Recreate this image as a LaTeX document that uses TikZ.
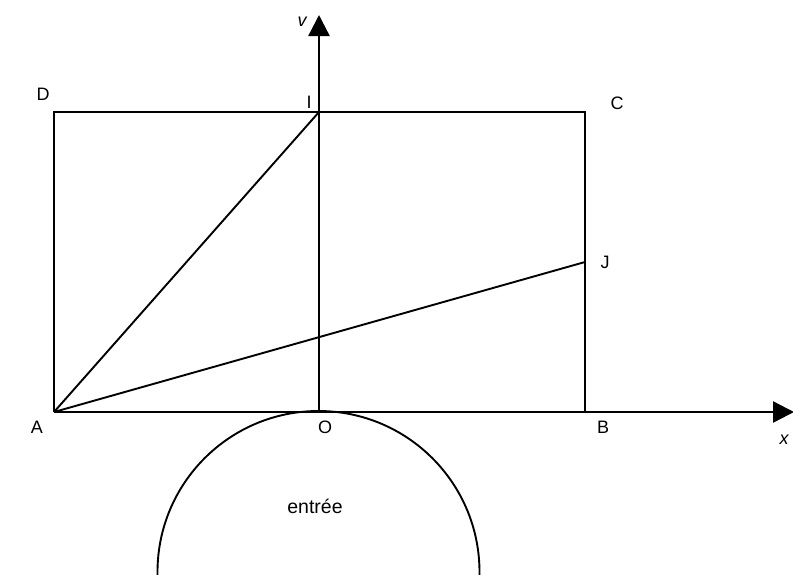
\documentclass[tikz,border=0pt]{standalone}
\usepackage{fontspec}
\setmainfont{Liberation Sans}
\usetikzlibrary{arrows.meta}
\tikzset{
  lbl/.style={font=\fontsize{18}{21}\selectfont, inner sep=0pt},
  edge/.style={line width=1.9pt},
  axis/.style={line width=2.4pt, -{Triangle[length=21pt,width=21pt]}},
}
\begin{document}
\begin{tikzpicture}[x=1pt,y=-1pt]
\useasboundingbox (0,0) rectangle (793,574);
\clip (0,0) rectangle (793,574);
\coordinate (A) at (54,412);
\coordinate (O) at (319,412);
\coordinate (B) at (585,412);
\coordinate (C) at (585,112);
\coordinate (D) at (54,112);
\coordinate (I) at (319,112);
\coordinate (J) at (585,262);
\coordinate (Ytop) at (319,15);
\coordinate (Xend) at (794,412);
\coordinate (K) at (318.5,572);
% rectangle
\draw[edge] (A) -- (D) -- (C) -- (B);
% diagonals
\draw[edge] (A) -- (I);
\draw[edge] (A) -- (J);
% axes
\draw[axis] (A) -- (Xend);
\draw[axis] (O) -- (Ytop);
% entrance circle
\draw[edge] (K) circle[radius=161];
% labels
\node[lbl] (lA) at (37,427) {A};
\node[lbl] (lO) at (325,427) {O};
\node[lbl] (lB) at (603,427) {B};
\node[lbl] (lD) at (43,94) {D};
\node[lbl] (lI) at (309,102) {I};
\node[lbl] (lC) at (617,103) {C};
\node[lbl] (lJ) at (605,262) {J};
\node[lbl, font=\fontsize{18}{21}\selectfont\itshape] (ly) at (302,22) {v};
\node[lbl, font=\fontsize{18}{21}\selectfont\itshape] (lx) at (784,440) {x};
\node[font=\fontsize{19.5}{22}\selectfont, inner sep=0pt] (ent) at (315,506) {entrée};
\end{tikzpicture}
\end{document}
